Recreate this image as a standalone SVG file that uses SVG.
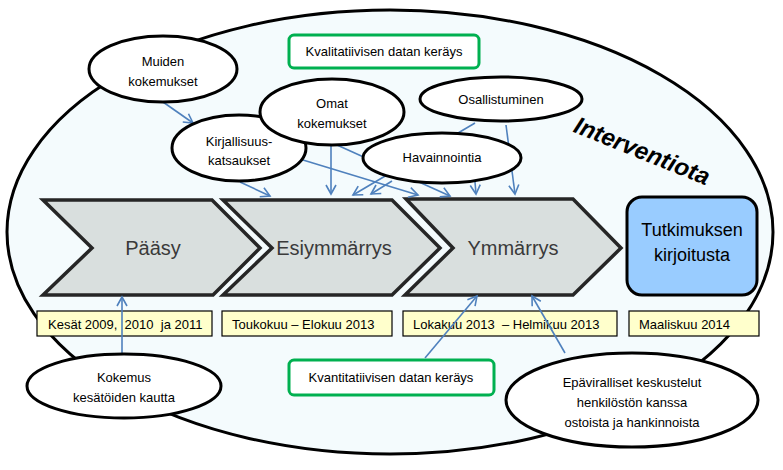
<svg xmlns="http://www.w3.org/2000/svg" width="783" height="470" viewBox="0 0 783 470">
<style>
text{font-family:"Liberation Sans",Arial,sans-serif;fill:#000}
.node{fill:#fff;stroke:#000;stroke-width:3}
.chev{fill:#d9dfde;stroke:#262626;stroke-width:3.5;stroke-linejoin:miter}
.chevt{font-size:20px;fill:#3a3a3a;text-anchor:middle}
.green{fill:#fff;stroke:#00b050;stroke-width:3}
.date{fill:#ffffcc;stroke:#000;stroke-width:1.2}
.t13{font-size:13px;text-anchor:middle}
.dt{font-size:13px;white-space:pre}
.conn line{stroke:#4f81bd;stroke-width:1.6;marker-end:url(#ah)}
</style>
<defs>
<marker id="ah" markerUnits="userSpaceOnUse" markerWidth="14" markerHeight="14" refX="10" refY="6" orient="auto" viewBox="0 0 14 12">
<path d="M1,1 L10,6 L1,11" fill="none" stroke="#4f81bd" stroke-width="1.6"/>
</marker>
</defs>
<rect width="783" height="470" fill="#fff"/>
<g id="interventiota">
<ellipse cx="390" cy="232" rx="383" ry="222" fill="#f4fbfd" stroke="#000" stroke-width="3"/>
<text transform="translate(642,151) rotate(22)" y="8" text-anchor="middle" font-size="24" font-weight="bold" font-style="italic">Interventiota</text>
</g>
<g id="paasy">
<polygon class="chev" points="43,200 212,200 260,248 213,295 43,295 92,248"/>
<text class="chevt" x="153" y="255">Pääsy</text>
</g>
<g id="esiymmarrys">
<polygon class="chev" points="223,200 392,200 440,248 392,295 223,295 272,248"/>
<text class="chevt" x="334" y="255">Esiymmärrys</text>
</g>
<g id="ymmarrys">
<polygon class="chev" points="406,199 573,199 621,248 573,295 405,295 453,248"/>
<text class="chevt" x="513" y="255">Ymmärrys</text>
</g>
<g id="tutkimuksen">
<rect x="627" y="197" width="130" height="98" rx="15" fill="#99ccff" stroke="#000" stroke-width="3"/>
<text x="692" y="236" font-size="18" text-anchor="middle">Tutkimuksen</text>
<text x="692" y="261" font-size="18" text-anchor="middle">kirjoitusta</text>
</g>
<g id="date1"><rect class="date" x="37" y="311" width="175" height="25"/><text class="dt" x="48" y="329" xml:space="preserve">Kesät 2009,  2010  ja 2011</text></g>
<g id="date2"><rect class="date" x="222" y="311" width="170" height="25"/><text class="dt" x="232" y="329">Toukokuu – Elokuu 2013</text></g>
<g id="date3"><rect class="date" x="403" y="311" width="214" height="25"/><text class="dt" x="413" y="329" xml:space="preserve">Lokakuu 2013  – Helmikuu 2013</text></g>
<g id="date4"><rect class="date" x="629" y="311" width="130" height="25"/><text class="dt" x="639" y="329">Maaliskuu 2014</text></g>
<g id="kvalitatiivisen"><rect class="green" x="289" y="35" width="190" height="33" rx="5"/><text class="t13" x="384" y="56">Kvalitatiivisen datan keräys</text></g>
<g id="kvantitatiivisen"><rect class="green" x="289" y="360" width="205" height="35" rx="5"/><text class="t13" x="391" y="382">Kvantitatiivisen datan keräys</text></g>
<g class="conn" id="connectors">
<line x1="163" y1="102" x2="193" y2="123"/>
<line x1="240" y1="182" x2="270" y2="196"/>
<line x1="303" y1="160" x2="418" y2="195"/>
<line x1="331" y1="146" x2="331" y2="194"/>
<line x1="337" y1="145" x2="450" y2="196"/>
<line x1="475" y1="123" x2="353" y2="195"/>
<line x1="392" y1="181" x2="371" y2="194"/>
<line x1="475" y1="182" x2="476" y2="194"/>
<line x1="506" y1="125" x2="515" y2="194"/>
<line x1="122" y1="353" x2="122" y2="297"/>
<line x1="425" y1="358" x2="477" y2="296"/>
<line x1="565" y1="353" x2="532" y2="296"/>
</g>
<g id="muiden"><ellipse class="node" cx="163" cy="69" rx="74" ry="33"/><text class="t13" x="163" y="66">Muiden</text><text class="t13" x="163" y="86">kokemukset</text></g>
<g id="kirjallisuus"><ellipse class="node" cx="239" cy="148" rx="67" ry="33"/><text class="t13" x="239" y="146">Kirjallisuus-</text><text class="t13" x="239" y="165">katsaukset</text></g>
<g id="omat"><ellipse class="node" cx="332" cy="112" rx="72" ry="33"/><text class="t13" x="332" y="108">Omat</text><text class="t13" x="332" y="128">kokemukset</text></g>
<g id="osallistuminen"><ellipse class="node" cx="501" cy="99" rx="81" ry="22"/><text class="t13" x="501" y="104">Osallistuminen</text></g>
<g id="havainnointia"><ellipse class="node" cx="442" cy="158" rx="79" ry="25"/><text class="t13" x="442" y="162">Havainnointia</text></g>
<g id="kokemus"><ellipse class="node" cx="124" cy="386" rx="97" ry="32"/><text class="t13" x="124" y="382">Kokemus</text><text class="t13" x="124" y="402">kesätöiden kautta</text></g>
<g id="epaviralliset"><ellipse class="node" cx="632" cy="400" rx="126" ry="47"/><text class="t13" x="632" y="387">Epäviralliset keskustelut</text><text class="t13" x="632" y="407">henkilöstön kanssa</text><text class="t13" x="632" y="427">ostoista ja hankinnoista</text></g>
</svg>
